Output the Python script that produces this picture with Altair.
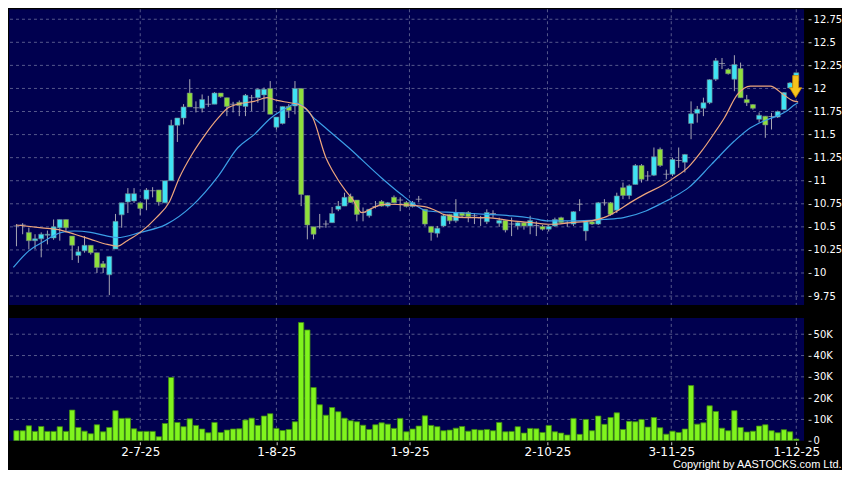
import altair as alt
import pandas as pd
import numpy as np

# ---------------- data ----------------
opens = [10.51, 10.52, 10.44, 10.35, 10.37, 10.41, 10.38, 10.49, 10.58, 10.40,
         10.19, 10.24, 10.30, 10.22, 10.10, 9.98, 10.26, 10.63, 10.77, 10.78,
         10.76, 10.80, 10.89, 10.90, 10.76, 11.00, 11.60, 11.68, 11.95, 11.79,
         11.785, 11.83, 11.83, 11.95, 11.90, 11.83, 11.85, 11.805, 11.90, 11.90,
         11.93, 12.00, 11.58, 11.62, 11.805, 11.81, 12.00, 10.84, 10.50, 10.50,
         10.53, 10.545, 10.69, 10.725, 10.83, 10.79, 10.655, 10.62, 10.72, 10.775,
         10.725, 10.82, 10.79, 10.765, 10.72, 10.80, 10.69, 10.505, 10.43, 10.51,
         10.635, 10.565, 10.655, 10.655, 10.62, 10.595, 10.555, 10.645, 10.54, 10.57,
         10.53, 10.51, 10.545, 10.51, 10.515, 10.505, 10.475, 10.51, 10.60, 10.545,
         10.53, 10.745, 10.455, 10.555, 10.53, 10.76, 10.76, 10.68, 10.925, 10.84,
         10.96, 11.165, 11.05, 11.06, 11.34, 11.07, 11.07, 11.22, 11.20, 11.62,
         11.73, 11.785, 11.845, 12.10, 12.27, 12.205, 12.10, 12.215, 11.88, 11.825,
         11.665, 11.70, 11.695, 11.69, 11.77, 12.005, 12.08]
highs = [10.53, 10.54, 10.49, 10.42, 10.44, 10.46, 10.58, 10.58, 10.58, 10.40,
         10.29, 10.40, 10.30, 10.22, 10.13, 10.18, 10.64, 10.76, 10.92, 10.92,
         10.76, 10.92, 10.93, 10.90, 11.00, 11.66, 11.68, 11.83, 12.10, 11.86,
         11.935, 11.92, 11.96, 11.95, 11.90, 11.855, 11.87, 11.94, 11.93, 12.00,
         12.01, 12.08, 11.69, 11.805, 11.83, 12.08, 12.00, 10.84, 10.50, 10.64,
         10.57, 10.715, 10.78, 10.87, 10.86, 10.79, 10.71, 10.69, 10.78, 10.79,
         10.77, 10.84, 10.82, 10.78, 10.78, 10.835, 10.69, 10.505, 10.51, 10.635,
         10.64, 10.80, 10.66, 10.67, 10.65, 10.62, 10.69, 10.68, 10.60, 10.57,
         10.60, 10.56, 10.55, 10.62, 10.56, 10.52, 10.52, 10.60, 10.61, 10.56,
         10.67, 10.80, 10.56, 10.57, 10.77, 10.80, 10.77, 10.87, 10.98, 10.96,
         11.18, 11.18, 11.105, 11.36, 11.36, 11.12, 11.25, 11.36, 11.29, 11.86,
         11.81, 11.90, 12.10, 12.33, 12.33, 12.22, 12.36, 12.28, 11.93, 11.83,
         11.74, 11.70, 11.735, 11.76, 11.96, 12.07, 12.17]
lows = [10.29, 10.42, 10.26, 10.26, 10.17, 10.31, 10.36, 10.35, 10.44, 10.14,
        10.11, 10.22, 10.20, 10.00, 10.00, 9.76, 10.26, 10.49, 10.65, 10.76,
        10.63, 10.68, 10.82, 10.73, 10.76, 11.00, 11.42, 11.61, 11.80, 11.74,
        11.74, 11.80, 11.83, 11.90, 11.70, 11.74, 11.70, 11.70, 11.755, 11.845,
        11.755, 11.72, 11.555, 11.61, 11.68, 11.72, 10.725, 10.365, 10.365, 10.48,
        10.49, 10.545, 10.67, 10.725, 10.76, 10.56, 10.56, 10.60, 10.70, 10.72,
        10.71, 10.76, 10.67, 10.71, 10.71, 10.765, 10.51, 10.35, 10.385, 10.50,
        10.53, 10.545, 10.60, 10.55, 10.53, 10.51, 10.53, 10.60, 10.50, 10.44,
        10.40, 10.47, 10.47, 10.42, 10.40, 10.46, 10.45, 10.50, 10.53, 10.50,
        10.51, 10.67, 10.35, 10.52, 10.52, 10.73, 10.62, 10.65, 10.80, 10.80,
        10.96, 10.98, 11.00, 11.05, 11.15, 11.015, 11.05, 11.14, 11.09, 11.45,
        11.63, 11.70, 11.83, 12.08, 12.21, 12.15, 11.97, 11.90, 11.81, 11.77,
        11.63, 11.465, 11.555, 11.68, 11.77, 12.00, 12.07]
closes = [10.51, 10.52, 10.35, 10.37, 10.42, 10.42, 10.50, 10.58, 10.49, 10.30,
          10.23, 10.30, 10.22, 10.06, 10.06, 10.18, 10.56, 10.76, 10.86, 10.86,
          10.70, 10.90, 10.89, 10.77, 11.00, 11.60, 11.68, 11.80, 11.80, 11.79,
          11.88, 11.83, 11.95, 11.91, 11.805, 11.83, 11.815, 11.925, 11.90, 11.99,
          11.99, 11.72, 11.69, 11.805, 11.76, 12.00, 10.85, 10.52, 10.42, 10.50,
          10.53, 10.645, 10.725, 10.82, 10.765, 10.635, 10.655, 10.69, 10.72, 10.725,
          10.76, 10.76, 10.79, 10.72, 10.765, 10.80, 10.53, 10.44, 10.485, 10.62,
          10.565, 10.655, 10.62, 10.61, 10.62, 10.595, 10.655, 10.645, 10.57, 10.465,
          10.53, 10.545, 10.51, 10.57, 10.515, 10.475, 10.505, 10.58, 10.545, 10.545,
          10.665, 10.745, 10.555, 10.53, 10.76, 10.76, 10.635, 10.835, 10.84, 10.945,
          11.165, 11.015, 11.05, 11.26, 11.165, 11.07, 11.23, 11.22, 11.285, 11.725,
          11.775, 11.845, 12.095, 12.30, 12.27, 12.16, 12.26, 11.90, 11.845, 11.785,
          11.71, 11.605, 11.695, 11.75, 11.955, 12.06, 12.17]
volumes_k = [4.7, 4.7, 7.0, 4.4, 6.7, 4.4, 4.4, 6.6, 4.4, 14.4,
             6.25, 4.5, 3.3, 7.5, 4.2, 6.25, 14.1, 10.5, 10.6, 5.6,
             4.4, 4.4, 4.4, 1.9, 8.1, 29.7, 8.6, 6.6, 10.3, 7.2,
             5.5, 3.75, 8.6, 3.9, 5.0, 5.5, 5.6, 9.7, 10.6, 7.2,
             11.6, 12.7, 5.8, 4.8, 5.3, 8.9, 55.5, 52.0, 25.0, 16.9,
             12.0, 15.6, 13.6, 10.6, 9.4, 8.9, 7.3, 5.3, 7.5, 8.4,
             7.8, 5.8, 10.5, 4.2, 5.5, 6.9, 11.7, 7.2, 6.6, 4.7,
             5.0, 5.9, 6.7, 4.5, 5.3, 5.0, 5.3, 4.7, 8.6, 4.2,
             4.4, 6.6, 3.6, 5.8, 5.6, 3.9, 7.2, 4.2, 3.6, 2.7,
             10.5, 3.0, 10.0, 4.7, 11.6, 7.7, 10.9, 13.1, 5.3, 9.1,
             8.9, 10.0, 6.4, 10.9, 6.1, 3.1, 4.5, 3.9, 5.5, 25.9,
             7.8, 8.4, 16.4, 13.75, 5.9, 4.7, 14.1, 6.25, 4.1, 4.5,
             6.9, 7.5, 4.7, 3.75, 5.2, 4.2, 0.8]

ma_fast_idx = [0, 4.1, 6.8, 9.4, 12, 14.7, 16.3, 17.9, 20, 22.6, 24.7, 26.3, 28.4, 30.5,
               32.6, 34.2, 35.8, 38.4, 40.5, 42.1, 44.2, 45.8, 47.9, 50, 51.1, 53.2, 54.3,
               55.8, 57.4, 59, 60, 62.2, 65.9, 68, 69, 72.7, 75.9, 80.1, 83.3, 86.4, 89.6,
               92.8, 94.9, 97, 99.1, 101.7, 104.4, 106, 108.6, 110.7, 112.8, 114.4, 116.5,
               118.6, 121.8, 123.9, 125.5, 126.3]
ma_fast_val = [10.52, 10.49, 10.47, 10.42, 10.365, 10.31, 10.29, 10.35, 10.44, 10.60, 10.77,
               11.03, 11.29, 11.50, 11.68, 11.79, 11.83, 11.86, 11.90, 11.87, 11.845, 11.82,
               11.68, 11.25, 11.105, 10.89, 10.80, 10.655, 10.70, 10.74, 10.745, 10.74,
               10.72, 10.67, 10.636, 10.60, 10.60, 10.564, 10.546, 10.528, 10.546, 10.564,
               10.60, 10.67, 10.76, 10.86, 10.95, 11.02, 11.15, 11.32, 11.52, 11.683,
               11.935, 12.025, 12.025, 11.935, 11.865, 11.855]
ma_slow_idx = [-0.5, 2, 4.1, 7.3, 9.4, 12, 14.7, 16.3, 20, 24.2, 28.4, 32.6, 35.8, 38.4,
               41.1, 43.7, 45.3, 48.4, 53.7, 59, 62.2, 64.3, 66.4, 71.1, 75.9, 80.1, 83.3,
               85.9, 88.6, 92.8, 94.9, 98.1, 101.7, 104.4, 106.5, 108.6, 112.3, 116, 118.6,
               120.7, 122.8, 124.4, 125.8, 126.3]
ma_slow_val = [10.06, 10.24, 10.33, 10.44, 10.455, 10.44, 10.40, 10.383, 10.44, 10.527,
               10.73, 11.05, 11.36, 11.50, 11.68, 11.79, 11.84, 11.66, 11.357, 11.03, 10.85,
               10.744, 10.672, 10.654, 10.636, 10.618, 10.593, 10.564, 10.564, 10.57, 10.58,
               10.60, 10.672, 10.76, 10.834, 10.925, 11.177, 11.43, 11.574, 11.646, 11.70,
               11.754, 11.827, 11.845]

date_tick_pos = [20, 42, 63.5, 85.8, 105.8, 126]
date_tick_labels = ["2-7-25", "1-8-25", "1-9-25", "2-10-25", "3-11-25", "1-12-25"]
price_ticks = [9.75, 10.0, 10.25, 10.5, 10.75, 11.0, 11.25, 11.5, 11.75, 12.0, 12.25, 12.5, 12.75]
volume_ticks = [0, 10000, 20000, 30000, 40000, 50000]
volume_grid = [10000, 20000, 30000, 40000, 50000]
signal_idx = [125.9]
signal_price = [12.02]

# ---------------- styling ----------------
NAVY = "#00004f"
GRID = "#55588c"
CYAN = "#3fe3f4"
GREEN = "#8fdf3c"
WICK = "#a8a8b4"
VOL = "#80f41e"
VOLEDGE = "#3f8c12"
ORANGE = "#eda57c"
BLUE = "#3b9ee6"
GOLD = "#f6c31c"
FONT = "DejaVu Sans"
ARROW = "M-0.27,-1 L0.27,-1 L0.27,0.1 L0.55,0.1 L0,1 L-0.55,0.1 L-0.27,0.1 Z"

W = 796
H_TOP = 296
H_VOL = 123

n = len(opens)
df = pd.DataFrame({"i": np.arange(n), "o": opens, "h": highs, "l": lows, "c": closes,
                   "v": [x * 1000 for x in volumes_k]})
df["lo"] = df[["o", "c"]].min(axis=1)
df["hi"] = df[["o", "c"]].max(axis=1)
df["dir"] = np.select([df.c > df.o, df.c < df.o], ["up", "down"], "flat")

xs = alt.Scale(domain=[-0.4, 126.45], nice=False, zero=False)
ys = alt.Scale(domain=[9.654, 12.858], nice=False, zero=False)
vs = alt.Scale(domain=[0, 57660], nice=False, zero=True)

label_expr = " : ".join(
    f"abs(datum.value - {p}) < 0.01 ? '{l}'" for p, l in zip(date_tick_pos, date_tick_labels)
) + " : ''"

AX_PRICE = alt.Axis(orient="right", values=price_ticks, labelExpr="toString(datum.value)",
                    title=None, grid=False, domain=False, tickSize=3, tickColor="#d0d0d0",
                    offset=4, labelPadding=2, labelFlush=False, labelFont=FONT,
                    labelFontSize=10, labelColor="#ffffff", labelOverlap=False)
AX_VOL = alt.Axis(orient="right", values=volume_ticks, title=None,
                  labelExpr="datum.value == 0 ? '0' : format(datum.value / 1000, 'd') + 'K'",
                  grid=False, domain=False, tickSize=3, tickColor="#d0d0d0",
                  offset=4, labelPadding=2, labelFlush=False, labelFont=FONT,
                  labelFontSize=10, labelColor="#ffffff", labelOverlap=False)
AX_DATE = alt.Axis(orient="bottom", values=date_tick_pos, labelExpr=label_expr,
                   title=None, grid=False, domain=False, tickSize=3,
                   tickColor="#d0d0d0", offset=1, labelPadding=2, labelFlush=False,
                   labelFont=FONT, labelFontSize=12, labelColor="#ffffff", labelOverlap=False)

# ---------- price panel ----------
XT = alt.X("i:Q", scale=xs, axis=None)


def py(field):
    return alt.Y(field, scale=ys, axis=AX_PRICE)


hgrid = alt.Chart(pd.DataFrame({"p": price_ticks})).mark_rule(
    color=GRID, strokeDash=[3, 3], strokeWidth=1).encode(y=py("p:Q"))
vgrid = alt.Chart(pd.DataFrame({"t": date_tick_pos})).mark_rule(
    color=GRID, strokeDash=[3, 3], strokeWidth=1).encode(x=alt.X("t:Q", scale=xs, axis=None))
wicks = alt.Chart(df).mark_rule(color=WICK, strokeWidth=1, clip=True).encode(
    x=XT, y=py("l:Q"), y2="h:Q")
bodies = alt.Chart(df).transform_filter("datum.dir != 'flat'").mark_bar(
    size=5, stroke="#6f7d88", strokeWidth=0.6, clip=True).encode(
    x=XT, y=py("lo:Q"), y2="hi:Q",
    color=alt.Color("dir:N", scale=alt.Scale(domain=["up", "down"], range=[CYAN, GREEN]),
                    legend=None))
dojis = alt.Chart(df).transform_filter("datum.dir == 'flat'").mark_tick(
    orient="horizontal", size=6, thickness=1, color=WICK, clip=True).encode(
    x=XT, y=py("c:Q"))
ma_slow = alt.Chart(pd.DataFrame({"i": ma_slow_idx, "v": ma_slow_val})).mark_line(
    color=BLUE, strokeWidth=1.2, interpolate="monotone", clip=True).encode(
    x=XT, y=py("v:Q"))
ma_fast = alt.Chart(pd.DataFrame({"i": ma_fast_idx, "v": ma_fast_val})).mark_line(
    color=ORANGE, strokeWidth=1.2, interpolate="monotone", clip=True).encode(
    x=XT, y=py("v:Q"))
arrow = alt.Chart(pd.DataFrame({"i": signal_idx, "p": signal_price})).mark_point(
    shape=ARROW, size=484, filled=True, fill=GOLD, stroke="#c98a00", strokeWidth=0.8,
    opacity=1).encode(x=XT, y=py("p:Q"))

top = alt.layer(hgrid, vgrid, wicks, bodies, dojis, ma_slow, ma_fast, arrow).properties(
    width=W, height=H_TOP)

# ---------- volume panel ----------
XV = alt.X("i:Q", scale=xs, axis=AX_DATE)


def vy(field):
    return alt.Y(field, scale=vs, axis=AX_VOL)


vhgrid = alt.Chart(pd.DataFrame({"q": volume_grid})).mark_rule(
    color=GRID, strokeDash=[3, 3], strokeWidth=1).encode(y=vy("q:Q"))
vvgrid = alt.Chart(pd.DataFrame({"t": date_tick_pos})).mark_rule(
    color=GRID, strokeDash=[3, 3], strokeWidth=1).encode(
    x=alt.X("t:Q", scale=xs, axis=AX_DATE))
vbars = alt.Chart(df).mark_bar(size=5.3, fill=VOL, stroke=VOLEDGE, strokeWidth=0.8,
                               clip=True).encode(x=XV, y=vy("v:Q"))

vol = alt.layer(vhgrid, vvgrid, vbars).properties(width=W, height=H_VOL)

chart = alt.vconcat(top, vol, spacing=11).properties(
    padding=0,
    background="#000000",
    title=alt.TitleParams("Copyright by AASTOCKS.com Ltd.", orient="bottom", anchor="end",
                          font="Liberation Sans", fontSize=11,
                          fontWeight="normal", color="#ffffff", offset=1, baseline="top"),
).configure_view(fill=NAVY, strokeWidth=0)

chart.save("out.html", embed_options={"renderer": "svg", "actions": False})
